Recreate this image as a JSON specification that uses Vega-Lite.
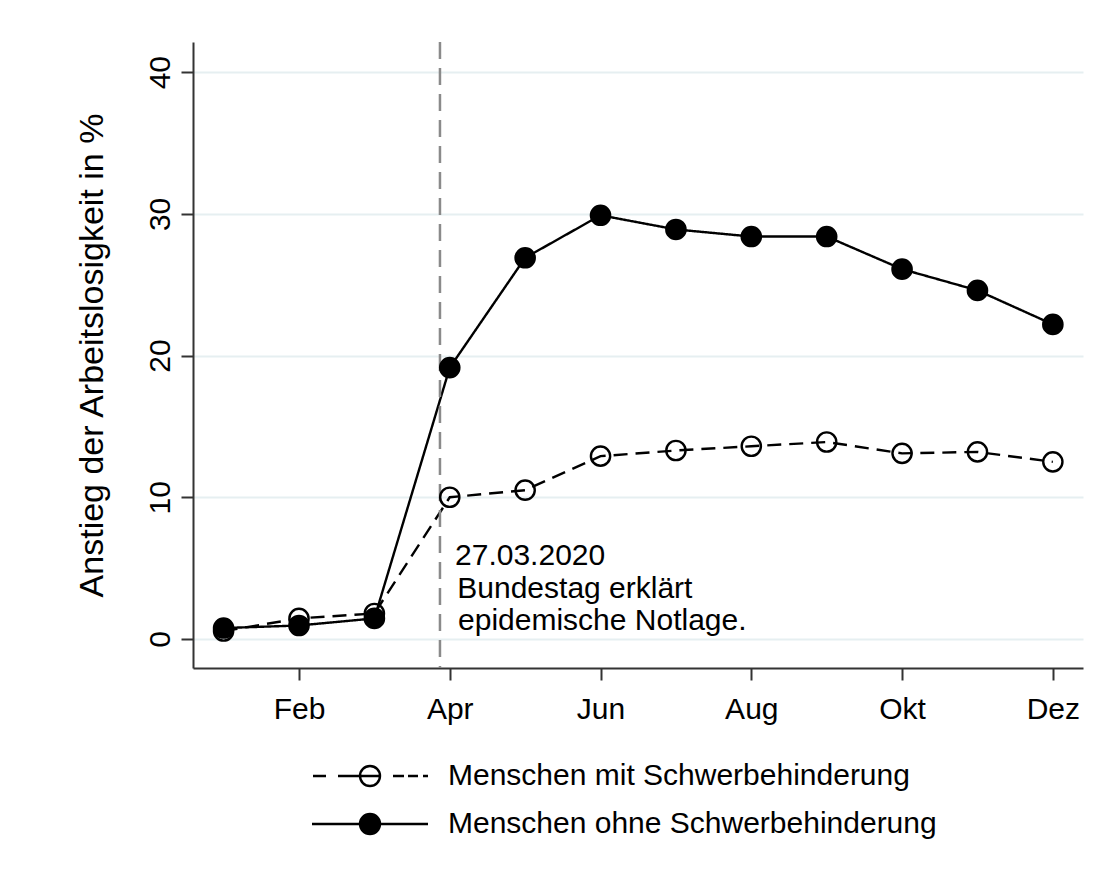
{
  "$schema": "https://vega.github.io/schema/vega-lite/v6.json",
  "width": 890,
  "height": 626,
  "autosize": {"type": "none"},
  "padding": {"left": 193, "top": 42, "right": 19, "bottom": 202},
  "background": "white",
  "config": {
    "font": "Liberation Sans",
    "view": {"stroke": null},
    "axis": {"labelFont": "Liberation Sans", "titleFont": "Liberation Sans"}
  },
  "datasets": {
    "series": [
      {"monat": 1, "wert": 0.56, "gruppe": "Menschen mit Schwerbehinderung"},
      {"monat": 2, "wert": 1.45, "gruppe": "Menschen mit Schwerbehinderung"},
      {"monat": 3, "wert": 1.8, "gruppe": "Menschen mit Schwerbehinderung"},
      {"monat": 4, "wert": 10.0, "gruppe": "Menschen mit Schwerbehinderung"},
      {"monat": 5, "wert": 10.5, "gruppe": "Menschen mit Schwerbehinderung"},
      {"monat": 6, "wert": 12.9, "gruppe": "Menschen mit Schwerbehinderung"},
      {"monat": 7, "wert": 13.3, "gruppe": "Menschen mit Schwerbehinderung"},
      {"monat": 8, "wert": 13.6, "gruppe": "Menschen mit Schwerbehinderung"},
      {"monat": 9, "wert": 13.9, "gruppe": "Menschen mit Schwerbehinderung"},
      {"monat": 10, "wert": 13.1, "gruppe": "Menschen mit Schwerbehinderung"},
      {"monat": 11, "wert": 13.2, "gruppe": "Menschen mit Schwerbehinderung"},
      {"monat": 12, "wert": 12.5, "gruppe": "Menschen mit Schwerbehinderung"},
      {"monat": 1, "wert": 0.77, "gruppe": "Menschen ohne Schwerbehinderung"},
      {"monat": 2, "wert": 0.95, "gruppe": "Menschen ohne Schwerbehinderung"},
      {"monat": 3, "wert": 1.45, "gruppe": "Menschen ohne Schwerbehinderung"},
      {"monat": 4, "wert": 19.15, "gruppe": "Menschen ohne Schwerbehinderung"},
      {"monat": 5, "wert": 26.9, "gruppe": "Menschen ohne Schwerbehinderung"},
      {"monat": 6, "wert": 29.9, "gruppe": "Menschen ohne Schwerbehinderung"},
      {"monat": 7, "wert": 28.9, "gruppe": "Menschen ohne Schwerbehinderung"},
      {"monat": 8, "wert": 28.4, "gruppe": "Menschen ohne Schwerbehinderung"},
      {"monat": 9, "wert": 28.4, "gruppe": "Menschen ohne Schwerbehinderung"},
      {"monat": 10, "wert": 26.1, "gruppe": "Menschen ohne Schwerbehinderung"},
      {"monat": 11, "wert": 24.6, "gruppe": "Menschen ohne Schwerbehinderung"},
      {"monat": 12, "wert": 22.2, "gruppe": "Menschen ohne Schwerbehinderung"}
    ],
    "ereignis": [{"monat": 3.87}],
    "notiz": [
      {"monat": 4.07, "wert": 5.22, "text": "27.03.2020"},
      {"monat": 4.1, "wert": 2.89, "text": "Bundestag erklärt"},
      {"monat": 4.11, "wert": 0.64, "text": "epidemische Notlage."}
    ]
  },
  "layer": [
    {
      "data": {"name": "series"},
      "mark": {"type": "line", "strokeWidth": 2.4, "color": "black"},
      "encoding": {
        "x": {
          "field": "monat", "type": "quantitative",
          "scale": {"domain": [0.594, 12.4], "nice": false, "zero": false},
          "axis": {
            "title": null,
            "values": [2, 4, 6, 8, 10, 12],
            "labelExpr": "datum.value == 2 ? 'Feb' : datum.value == 4 ? 'Apr' : datum.value == 6 ? 'Jun' : datum.value == 8 ? 'Aug' : datum.value == 10 ? 'Okt' : 'Dez'",
            "labelFontSize": 30,
            "labelColor": "black",
            "labelPadding": 14,
            "tickSize": 12,
            "tickWidth": 2,
            "tickColor": "#333333",
            "domainColor": "#333333",
            "domainWidth": 2,
            "grid": false,
            "labelFlush": false,
            "labelOverlap": false
          }
        },
        "y": {
          "field": "wert", "type": "quantitative",
          "scale": {"domain": [-2.05, 42.13], "nice": false, "zero": false},
          "axis": {
            "title": "Anstieg der Arbeitslosigkeit in %",
            "titleFontSize": 34,
            "titleFontWeight": "normal",
            "titleColor": "black",
            "titlePadding": 36,
            "values": [0, 10, 20, 30, 40],
            "labelAngle": 270,
            "labelFontSize": 30,
            "labelColor": "black",
            "labelPadding": 6,
            "tickSize": 12,
            "tickWidth": 2,
            "tickColor": "#333333",
            "domainColor": "#333333",
            "domainWidth": 2,
            "grid": true,
            "gridColor": "#e6eff1",
            "gridWidth": 2,
            "labelFlush": false,
            "labelOverlap": false
          }
        },
        "detail": {"field": "gruppe", "type": "nominal"},
        "strokeDash": {
          "field": "gruppe", "type": "nominal",
          "scale": {"range": [[14, 8], [1, 0]]},
          "legend": null
        }
      }
    },
    {
      "data": {"name": "ereignis"},
      "mark": {"type": "rule", "color": "#8a8a8a", "strokeWidth": 2.5, "strokeDash": [17, 9]},
      "encoding": {
        "x": {"field": "monat", "type": "quantitative"}
      }
    },
    {
      "data": {"name": "series"},
      "mark": {"type": "point", "filled": true, "size": 370, "stroke": "black", "strokeWidth": 2.4, "opacity": 1},
      "encoding": {
        "x": {"field": "monat", "type": "quantitative"},
        "y": {"field": "wert", "type": "quantitative"},
        "fill": {
          "field": "gruppe", "type": "nominal",
          "scale": {"domain": ["Menschen mit Schwerbehinderung", "Menschen ohne Schwerbehinderung"], "range": ["transparent", "black"]}
        }
      }
    },
    {
      "data": {"name": "series"},
      "mark": {"type": "point", "filled": true, "size": 400, "stroke": "black", "strokeWidth": 2.4, "opacity": 0},
      "encoding": {
        "x": {"field": "monat", "type": "quantitative"},
        "y": {"field": "wert", "type": "quantitative"},
        "fill": {
          "field": "gruppe", "type": "nominal",
          "scale": {"domain": ["Menschen mit Schwerbehinderung", "Menschen ohne Schwerbehinderung"], "range": ["transparent", "black"]},
          "legend": {
            "title": null,
            "orient": "none",
            "legendX": 162,
            "legendY": 719,
            "direction": "vertical",
            "symbolSize": 400,
            "symbolOpacity": 1,
            "symbolStrokeWidth": 2.4,
            "symbolStrokeColor": "black",
            "labelFontSize": 30,
            "labelColor": "black",
            "labelFont": "Liberation Sans",
            "labelOffset": 63,
            "labelLimit": 800,
            "rowPadding": 18
          }
        },
        "shape": {
          "field": "gruppe", "type": "nominal",
          "scale": {
            "domain": ["Menschen mit Schwerbehinderung", "Menschen ohne Schwerbehinderung"],
            "range": [
              "M-5.7,0L-4.4,0M-3.2,0L1,0M2.3,0L3.4,0M3.8,0L4.8,0M5.3,0L5.8,0M-1,0A1,1,0,1,1,1,0A1,1,0,1,1,-1,0Z",
              "M-5.8,0L5.8,0M-1,0A1,1,0,1,1,1,0A1,1,0,1,1,-1,0Z"
            ]
          },
          "legend": {
            "title": null,
            "orient": "none",
            "legendX": 162,
            "legendY": 719,
            "direction": "vertical",
            "symbolSize": 400,
            "symbolOpacity": 1,
            "symbolStrokeWidth": 2.4,
            "symbolStrokeColor": "black",
            "labelFontSize": 30,
            "labelColor": "black",
            "labelFont": "Liberation Sans",
            "labelOffset": 63,
            "labelLimit": 800,
            "rowPadding": 18
          }
        }
      }
    },
    {
      "data": {"name": "notiz"},
      "mark": {"type": "text", "align": "left", "baseline": "alphabetic", "fontSize": 30, "color": "black", "font": "Liberation Sans"},
      "encoding": {
        "x": {"field": "monat", "type": "quantitative"},
        "y": {"field": "wert", "type": "quantitative"},
        "text": {"field": "text", "type": "nominal"}
      }
    }
  ]
}
